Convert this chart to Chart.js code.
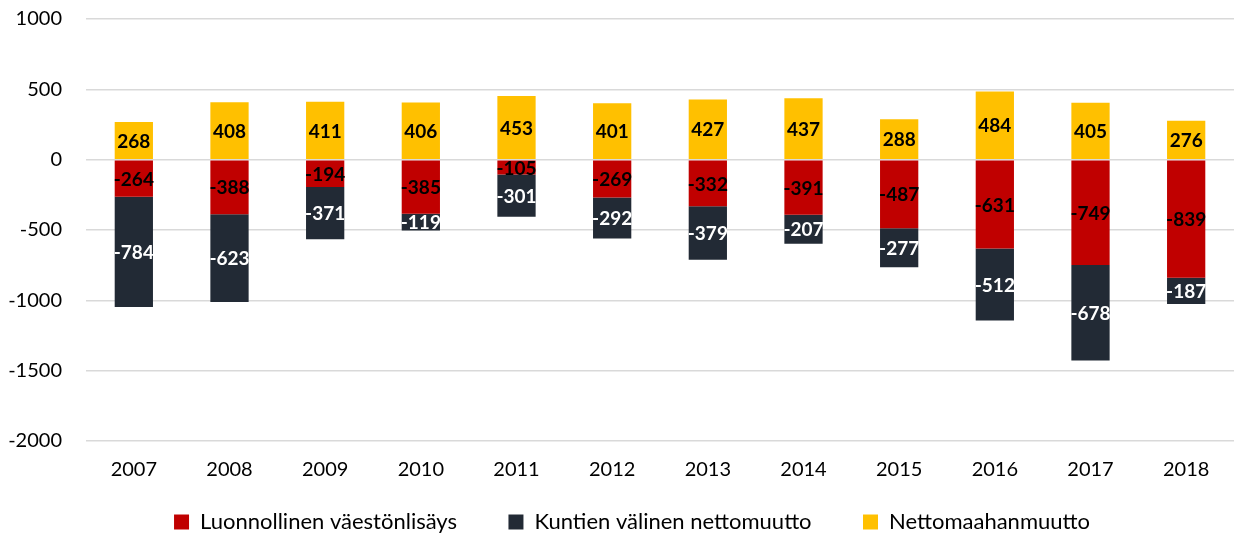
<!DOCTYPE html>
<html>
<head>
<meta charset="utf-8">
<script src="https://cdn.jsdelivr.net/npm/chart.js@4"></script>
<style>
  html, body { margin: 0; padding: 0; background: #fff; overflow: hidden; }
  #wrap { width: 1234px; height: 543px; }
</style>
</head>
<body>
<div id="wrap"><canvas id="chart"></canvas></div>
<script>
const years = ['2007', '2008', '2009', '2010', '2011', '2012', '2013', '2014', '2015', '2016', '2017', '2018']
const natural = [-264, -388, -194, -385, -105, -269, -332, -391, -487, -631, -749, -839]
const domestic = [-784, -623, -371, -119, -301, -292, -379, -207, -277, -512, -678, -187]
const immigration = [268, 408, 411, 406, 453, 401, 427, 437, 288, 484, 405, 276]

const FONT = 'Lato'

// draws the value in the middle of every bar segment
const barLabels = {
  id: 'barLabels',
  afterDatasetsDraw(chart) {
    const ctx = chart.ctx
    ctx.save()
    ctx.font = `bold 19px ${FONT}`
    ctx.textAlign = 'center'
    ctx.textBaseline = 'middle'
    chart.data.datasets.forEach((ds, i) => {
      const meta = chart.getDatasetMeta(i)
      meta.data.forEach((bar, j) => {
        const { x, y, base } = bar.getProps(['x', 'y', 'base'], true)
        ctx.fillStyle = ds.labelColor
        ctx.fillText(String(ds.data[j]), x, (y + base) / 2 + 1)
      })
    })
    ctx.restore()
  }
}

// legend sits a little right of the canvas centre in the original
const legendShift = {
  id: 'legendShift',
  afterLayout(chart) {
    chart.legend.left += 15
    chart.legend.right += 15
  }
}

new Chart(document.getElementById('chart'), {
  type: 'bar',
  data: {
    labels: years,
    datasets: [
      { label: 'Luonnollinen väestönlisäys', data: natural, backgroundColor: '#C00000', labelColor: '#000' },
      { label: 'Kuntien välinen nettomuutto', data: domestic, backgroundColor: '#222A35', labelColor: '#fff' },
      { label: 'Nettomaahanmuutto', data: immigration, backgroundColor: '#FFC000', labelColor: '#000' }
    ]
  },
  options: {
    responsive: true,
    maintainAspectRatio: false,
    animation: false,
    events: [],
    layout: { padding: { left: 0, right: 0, top: 19, bottom: 0 } },
    datasets: { bar: { barPercentage: 0.8, categoryPercentage: 0.5 } },
    scales: {
      x: {
        stacked: true,
        grid: { display: false, drawTicks: false },
        border: { display: false },
        ticks: { color: '#000', font: { family: FONT, size: 20 }, padding: 17 }
      },
      y: {
        stacked: true,
        min: -2000,
        max: 1000,
        border: { display: false },
        grid: { color: '#d9d9d9', lineWidth: 1.5, drawTicks: false },
        ticks: {
          stepSize: 500,
          color: '#000',
          font: { family: FONT, size: 20 },
          padding: 24,
          callback: v => String(v)
        },
        afterFit(s) {
          s.width = 86
          s.paddingTop = 0
          s.paddingBottom = 0
        }
      }
    },
    plugins: {
      legend: {
        position: 'bottom',
        labels: {
          color: '#000',
          font: { family: FONT, size: 22 },
          boxWidth: 15,
          boxHeight: 15,
          padding: 12,
          // trailing spaces widen the gap between items
          generateLabels(chart) {
            const items = Chart.defaults.plugins.legend.labels.generateLabels(chart)
            items.forEach((it, i) => {
              it.lineWidth = 0
              if (i < items.length - 1) it.text += '       '
            })
            return items
          }
        }
      },
      tooltip: { enabled: false }
    }
  },
  plugins: [barLabels, legendShift]
})
</script>
</body>
</html>
